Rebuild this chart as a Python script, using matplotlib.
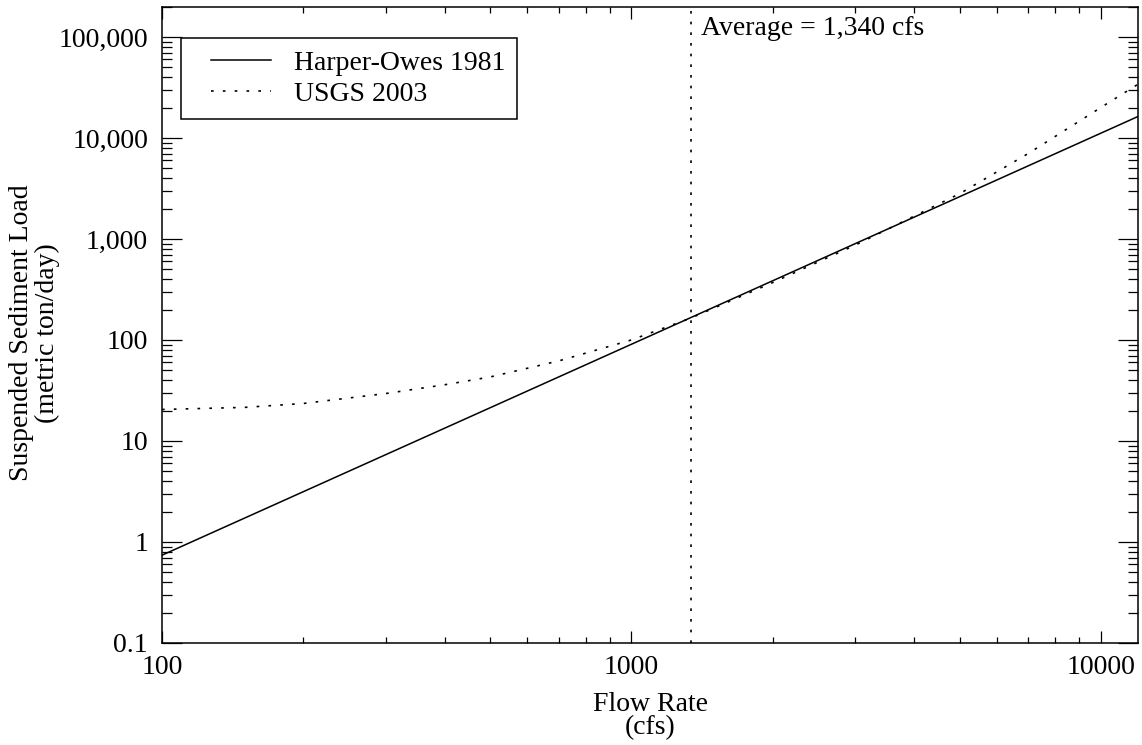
import matplotlib
matplotlib.use('Agg')
from matplotlib import pyplot as plt
from matplotlib.ticker import FixedLocator, LogLocator, FuncFormatter, NullFormatter
from matplotlib.legend_handler import HandlerLine2D

# data
flow_harper = [100, 1340, 12000]
load_harper = [0.74, 167, 16300]

flow_usgs = [100, 150, 200, 300, 400, 500, 700, 1000, 1340,
             2000, 3000, 4000, 5000, 7000, 10000, 12000]
load_usgs = [20.5, 21.5, 23.5, 29.5, 36, 43, 62, 100, 165,
             370, 870, 1680, 2800, 7000, 20000, 34000]

avg_flow = 1340
x_ticks = [100, 1000, 10000]
y_ticks = [0.1, 1, 10, 100, 1000, 10000, 100000]

plt.rcParams['font.family'] = ['Liberation Serif', 'DejaVu Serif']
plt.rcParams['font.size'] = 20

fig = plt.figure(figsize=(11.42, 7.45), dpi=100)
ax = fig.add_axes([162 / 1142, 102 / 745, 976 / 1142, 636.5 / 745])

ax.plot(flow_harper, load_harper, color='black', lw=1.1, label='Harper-Owes 1981')
ax.plot(flow_usgs, load_usgs, color='black', lw=1.2, linestyle=(0, (1.6, 5.5)),
        label='USGS 2003')
ax.axvline(avg_flow, color='black', lw=1.2, linestyle=(0, (1.6, 4.8)))
ax.annotate('Average = 1,340 cfs', xy=(avg_flow, 1), xycoords=('data', 'axes fraction'),
            xytext=(7.5, -7), textcoords='offset points', ha='left', va='top')

ax.set_xscale('log')
ax.set_yscale('log')
ax.set_xlim(100, 12000)
ax.set_ylim(0.1, 2e5)

ax.xaxis.set_major_locator(FixedLocator(x_ticks))
ax.xaxis.set_major_formatter(FuncFormatter(lambda v, p: '%d' % v))
ax.xaxis.set_minor_locator(LogLocator(base=10, subs=range(2, 10)))
ax.xaxis.set_minor_formatter(NullFormatter())
ax.yaxis.set_major_locator(FixedLocator(y_ticks))
ax.yaxis.set_major_formatter(FuncFormatter(lambda v, p: '0.1' if v < 1 else '{:,}'.format(int(round(v)))))
ax.yaxis.set_minor_locator(LogLocator(base=10, subs=range(2, 10)))
ax.yaxis.set_minor_formatter(NullFormatter())

ax.tick_params(axis='both', which='both', direction='in', top=True, right=True,
               width=0.9, labelsize=20)
ax.tick_params(axis='y', which='major', length=14.5, pad=10)
ax.tick_params(axis='y', which='minor', length=7.2)
ax.tick_params(axis='x', which='major', length=8.6, pad=8.5)
ax.tick_params(axis='x', which='minor', length=4.5)
for s in ax.spines.values():
    s.set_linewidth(1.1)

fig.text(0.5695, 0.0456, 'Flow Rate', ha='center', va='baseline', fontsize=20)
fig.text(0.5695, 0.0150, '(cfs)', ha='center', va='baseline', fontsize=20)
fig.text(0.0184, 0.553, 'Suspended Sediment Load', rotation=90, ha='center', va='center', fontsize=20)
fig.text(0.0412, 0.553, '(metric ton/day)', rotation=90, ha='center', va='center', fontsize=20)

leg = ax.legend(loc='upper left', bbox_to_anchor=(0.0195, 0.9498), borderaxespad=0,
                fancybox=False, framealpha=1, edgecolor='black', fontsize=20,
                handlelength=2.83, handletextpad=0.82, borderpad=0.42, labelspacing=0.21,
                handler_map={matplotlib.lines.Line2D: HandlerLine2D(xpad=0.67)})
leg.get_frame().set_linewidth(1.1)

plt.savefig('out.png', dpi=100)
